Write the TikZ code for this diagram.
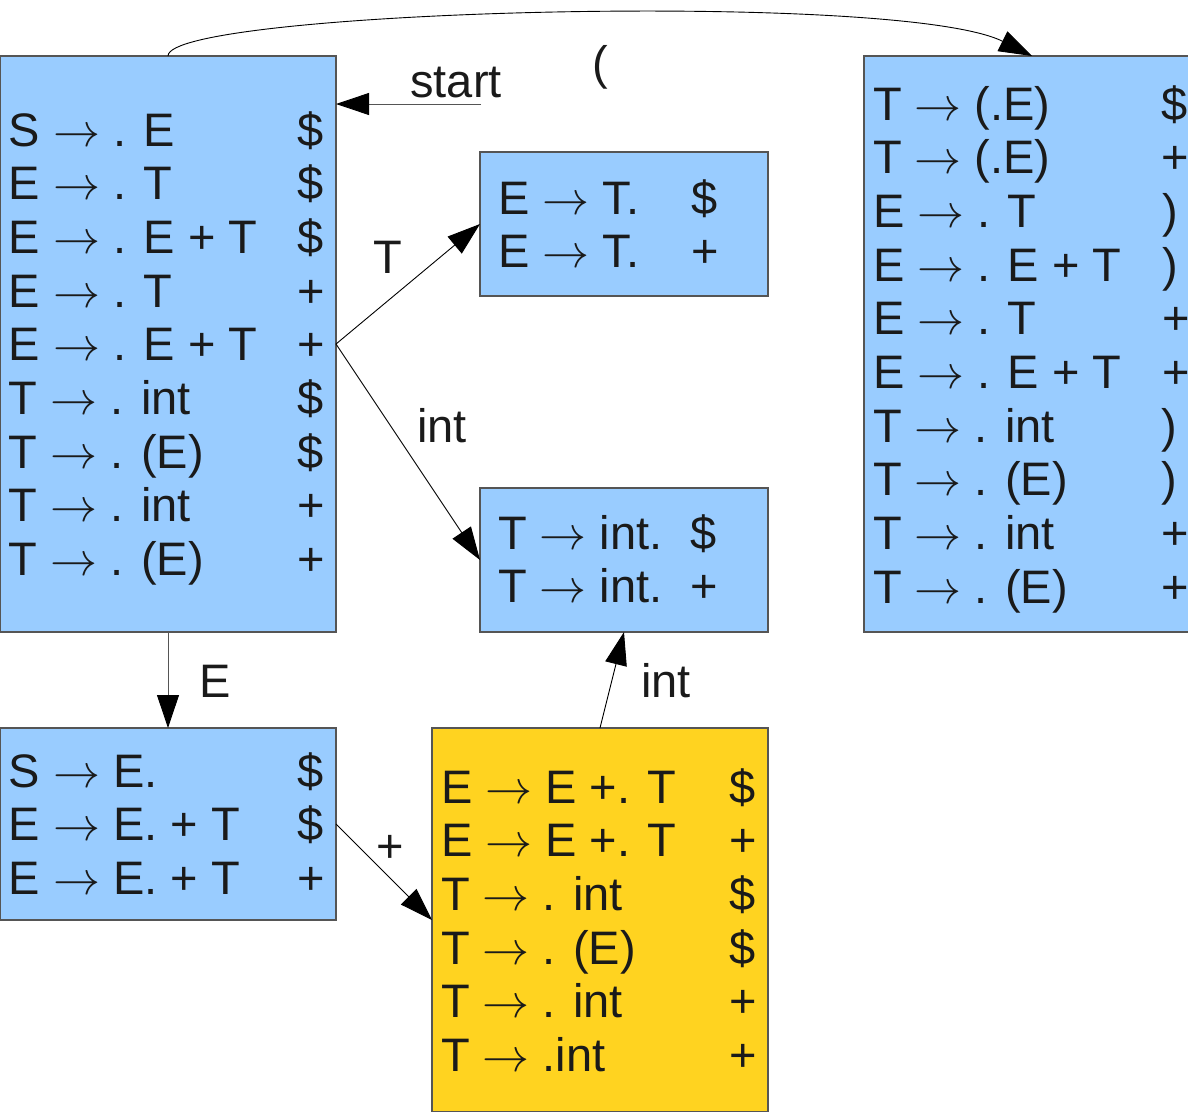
\documentclass[tikz,border=0pt]{standalone}
\usepackage{fontspec}
\setmainfont{Liberation Sans}
\usetikzlibrary{arrows.meta}
\definecolor{boxblue}{HTML}{99CCFF}
\definecolor{boxyellow}{HTML}{FFD320}
\definecolor{edgegray}{HTML}{555555}
\definecolor{inkc}{HTML}{1A1A1A}
\newcommand{\myarr}{\scalebox{4.7}{\fontsize{10}{12}\selectfont$\rightarrow$}}
\begin{document}
\begin{tikzpicture}[x=1pt,y=-1pt,
  statebox/.style={draw=edgegray, line width=1.2pt, inner sep=0pt, outer sep=0pt, anchor=north west},
  rows/.style={inner sep=0pt, outer sep=0pt, anchor=base west, text=inkc, font=\fontsize{47}{53.7}\selectfont},
  lbl/.style={inner sep=0pt, outer sep=0pt, anchor=base, text=inkc, font=\fontsize{47}{53.7}\selectfont},
  conn/.style={draw=black, line width=0.9pt, -{Triangle[length=33pt,width=22pt,color=black]}}]
\useasboundingbox (0,0) rectangle (1188,1111);
\clip (0,0) rectangle (1188,1111);

% state boxes
\node[statebox, fill=boxblue, minimum width=336pt, minimum height=576pt] (A) at (0,56) {};
\node[statebox, fill=boxblue, minimum width=288pt, minimum height=144pt] (B) at (480,152) {};
\node[statebox, fill=boxblue, minimum width=288pt, minimum height=144pt] (C) at (480,488) {};
\node[statebox, fill=boxblue, minimum width=336pt, minimum height=192pt] (D) at (0,728) {};
\node[statebox, fill=boxyellow, minimum width=336pt, minimum height=384pt] (Y) at (432,728) {};
\node[statebox, fill=boxblue, minimum width=336pt, minimum height=576pt] (R) at (864,56) {};

% box contents
\node[rows] (At) at (9,146) {\begin{tabular}[t]{@{}p{289pt}@{}l@{}}
S \myarr{} . E & \$\\
E \myarr{} . T & \$\\
E \myarr{} . E + T & \$\\
E \myarr{} . T & +\\
E \myarr{} . E + T & +\\
T \myarr{} . int & \$\\
T \myarr{} . (E) & \$\\
T \myarr{} . int & +\\
T \myarr{} . (E) & +
\end{tabular}};

\node[rows] (Bt) at (498,214) {\begin{tabular}[t]{@{}p{193pt}@{}l@{}}
E \myarr{} T. & \$\\
E \myarr{} T. & +
\end{tabular}};

\node[rows] (Ct) at (498,549) {\begin{tabular}[t]{@{}p{193pt}@{}l@{}}
T \myarr{} int. & \$\\
T \myarr{} int. & +
\end{tabular}};

\node[rows] (Dt) at (9,787) {\begin{tabular}[t]{@{}p{289pt}@{}l@{}}
S \myarr{} E. & \$\\
E \myarr{} E. + T & \$\\
E \myarr{} E. + T & +
\end{tabular}};

\node[rows] (Yt) at (441,803) {\begin{tabular}[t]{@{}p{289pt}@{}l@{}}
E \myarr{} E +. T & \$\\
E \myarr{} E +. T & +\\
T \myarr{} . int & \$\\
T \myarr{} . (E) & \$\\
T \myarr{} . int & +\\
T \myarr{} .int & +
\end{tabular}};

\node[rows] (Rt) at (873,120) {\begin{tabular}[t]{@{}p{289pt}@{}l@{}}
T \myarr{} (.E) & \$\\
T \myarr{} (.E) & +\\
E \myarr{} . T & )\\
E \myarr{} . E + T & )\\
E \myarr{} . T & +\\
E \myarr{} . E + T & +\\
T \myarr{} . int & )\\
T \myarr{} . (E) & )\\
T \myarr{} . int & +\\
T \myarr{} . (E) & +
\end{tabular}};

% labels
\node[lbl] (lstart) at (456,97) {start};
\node[lbl] (lparen) at (600,79) {(};
\node[lbl] (lT) at (388,273) {T};
\node[lbl] (lint1) at (442,442) {int};
\node[lbl] (lE) at (215,697) {E};
\node[lbl] (lplus) at (390,862) {+};
\node[lbl] (lint2) at (666,697) {int};

% connectors
\coordinate (st) at (481,104);
\draw[conn, draw=edgegray] (st) -- (st -| A.east);
\draw[conn] (A.north) .. controls (168,10) and (900,-10) .. (R.north);
\draw[conn] (A.east) -- (B.west);
\draw[conn] (A.east) -- (C.west);
\draw[conn, draw=edgegray] (A.south) -- (D.north);
\draw[conn] (D.east) -- (Y.west);
\draw[conn] (Y.north) -- (C.south);
\end{tikzpicture}
\end{document}
